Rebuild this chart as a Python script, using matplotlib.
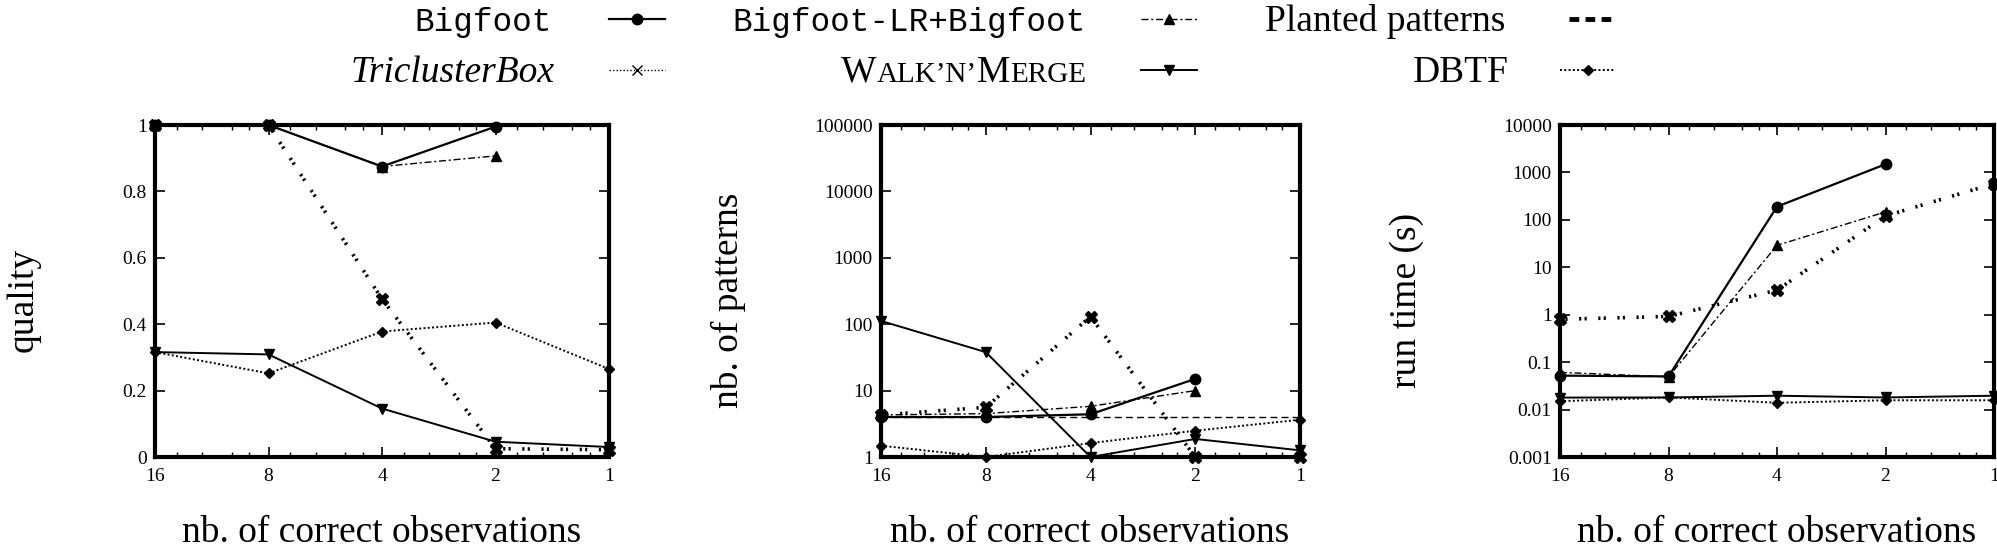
import numpy as np
import matplotlib
matplotlib.use("Agg")
from matplotlib import pyplot as plt, rcParams
from matplotlib.lines import Line2D
from matplotlib.ticker import LogLocator, NullLocator, NullFormatter

rcParams["font.family"] = "Liberation Serif"

nan = np.nan
obs = [16, 8, 4, 2, 1]

# quality
bigfoot_q = [1.0, 1.0, 0.875, 0.995, nan]
bflr_q = [1.0, 1.0, 0.875, 0.907, nan]
planted_q = [1.0, 1.0, 1.0, 1.0, 1.0]
tribox_q = [1.0, 1.0, 0.476, 0.025, 0.022]
wnm_q = [0.316, 0.309, 0.146, 0.046, 0.030]
dbtf_q = [0.316, 0.252, 0.378, 0.405, 0.265]

# nb. of patterns
bigfoot_p = [4.0, 4.0, 4.4, 15.0, nan]
bflr_p = [4.3, 4.5, 5.8, 10.0, nan]
planted_p = [4.0, 4.0, 4.0, 4.0, 4.0]
tribox_p = [4.3, 5.6, 130.0, 1.0, 1.0]
wnm_p = [112.0, 38.0, 1.0, 1.87, 1.26]
dbtf_p = [1.48, 1.0, 1.62, 2.49, 3.64]

# run time (s)
bigfoot_t = [0.052, 0.050, 190.0, 1490.0, nan]
bflr_t = [0.061, 0.049, 29.0, 147.0, nan]
tribox_t = [0.80, 0.92, 3.3, 121.0, 580.0]
wnm_t = [0.0179, 0.0180, 0.0196, 0.0180, 0.0196]
dbtf_t = [0.0150, 0.0180, 0.0139, 0.0157, 0.0157]

xticklabels = ["16", "8", "4", "2", "1"]
q_ticks = [0, 0.2, 0.4, 0.6, 0.8, 1]
q_labels = ["0", "0.2", "0.4", "0.6", "0.8", "1"]
p_ticks = [1, 10, 100, 1000, 10000, 100000]
p_labels = ["1", "10", "100", "1000", "10000", "100000"]
t_ticks = [0.001, 0.01, 0.1, 1, 10, 100, 1000, 10000]
t_labels = ["0.001", "0.01", "0.1", "1", "10", "100", "1000", "10000"]

styles = {
    "bigfoot": dict(ls="-", lw=1.6, marker="o", ms=7.5),
    "bflr": dict(ls=(0, (5, 2, 1.5, 2)), lw=1.0, marker="^", ms=6.5),
    "planted": dict(ls=(0, (5, 3)), lw=1.0),
    "tribox": dict(ls=(0, (0.6, 0.9, 0.6, 3.2)), lw=2.6, marker="X", ms=9,
                   dash_capstyle="butt"),
    "wnm": dict(ls="-", lw=1.4, marker="v", ms=6.5),
    "dbtf": dict(ls=(0, (1, 1.2)), lw=1.4, marker="D", ms=5),
}

W, H = 1997, 552
fig = plt.figure(figsize=(W / 100, H / 100), dpi=100)


def rect(x0, x1, top=125, bottom=457):
    return [x0 / W, 1 - bottom / H, (x1 - x0) / W, (bottom - top) / H]


ax1 = fig.add_axes(rect(155, 609))
ax2 = fig.add_axes(rect(881, 1300))
ax3 = fig.add_axes(rect(1560, 1994))

panels = [
    (ax1, dict(planted=planted_q, bigfoot=bigfoot_q, bflr=bflr_q,
               tribox=tribox_q, wnm=wnm_q, dbtf=dbtf_q)),
    (ax2, dict(planted=planted_p, bigfoot=bigfoot_p, bflr=bflr_p,
               tribox=tribox_p, wnm=wnm_p, dbtf=dbtf_p)),
    (ax3, dict(bigfoot=bigfoot_t, bflr=bflr_t,
               tribox=tribox_t, wnm=wnm_t, dbtf=dbtf_t)),
]

for ax, data in panels:
    for key, vals in data.items():
        ax.plot(obs, vals, color="k", clip_on=False, **styles[key])
    ax.set_xscale("log", base=2)
    ax.set_xlim(16, 1)
    ax.set_xticks(obs, xticklabels)
    ax.xaxis.set_minor_locator(
        LogLocator(base=2, subs=(1.125, 1.25, 1.5, 1.75))
    )
    ax.xaxis.set_minor_formatter(NullFormatter())
    for s in ax.spines.values():
        s.set_linewidth(3)
    ax.tick_params(which="both", direction="in", top=True, right=True,
                   labelsize=14)
    ax.tick_params(axis="x", which="both", pad=8)
    ax.tick_params(axis="y", which="both", pad=6)
    ax.tick_params(which="major", length=7, width=1.2)
    ax.tick_params(which="minor", length=3.5, width=1.0)

ax1.set_ylim(0, 1)
ax1.set_yticks(q_ticks, q_labels)
ax2.set_yscale("log")
ax2.set_ylim(1, 1e5)
ax2.set_yticks(p_ticks, p_labels)
ax3.set_yscale("log")
ax3.set_ylim(1e-3, 1e4)
ax3.set_yticks(t_ticks, t_labels)
for ax in (ax2, ax3):
    ax.yaxis.set_minor_locator(NullLocator())

# axis labels
for xc in (382, 1090, 1777):
    fig.text(xc / W, 1 - 542 / H, "nb. of correct observations",
             ha="center", va="baseline", size=27)
for xc, lab in ((23, "quality"), (728, "nb. of patterns"),
                (1407, "run time (s)")):
    fig.text(xc / W, 1 - 300 / H, lab, rotation=90,
             ha="center", va="center", size=27)

# legend drawn gnuplot style: right-aligned text then sample
renderer = fig.canvas.get_renderer()
rows = {1: (19, 31), 2: (70, 82)}  # (sample y, text baseline) in px
mono = dict(family="Liberation Mono", size=23.5)
serif = dict(family="Liberation Serif", size=27)
small = dict(family="Liberation Serif", size=21)


def sample(x0, x1, row, style):
    yc = 1 - rows[row][0] / H
    st = dict(style)
    mk = st.pop("marker", None)
    ms = st.pop("ms", 6)
    fig.add_artist(Line2D([x0 / W, x1 / W], [yc, yc], color="k",
                          transform=fig.transFigure, **st))
    if mk:
        fig.add_artist(Line2D([(x0 + x1) / 2 / W], [yc], color="k",
                              marker=mk, ms=ms, ls="none",
                              transform=fig.transFigure))


def label(xr, row, pieces):
    yb = 1 - rows[row][1] / H
    x = xr
    for txt, props in reversed(pieces):
        t = fig.text(x / W, yb, txt, ha="right", va="baseline", **props)
        x -= t.get_window_extent(renderer).width


label(552, 1, [("Bigfoot", mono)])
sample(609, 665, 1, styles["bigfoot"])
label(1086, 1, [("Bigfoot-LR+Bigfoot", mono)])
sample(1141, 1197, 1, styles["bflr"])
label(1505, 1, [("Planted patterns", serif)])
sample(1569, 1614, 1, dict(ls=(0, (2, 1.3)), lw=3.5))
label(555, 2, [("TriclusterBox", dict(serif, style="italic"))])
sample(609, 665, 2, dict(ls=(0, (1, 1.5)), lw=1.0, marker="x", ms=7))
label(1086, 2, [("W", serif), ("ALK\u2019N\u2019", small), ("M", serif),
                ("ERGE", small)])
sample(1141, 1197, 2, styles["wnm"])
label(1509, 2, [("DBTF", serif)])
sample(1560, 1615, 2, styles["dbtf"])

fig.savefig("out.png", dpi=100)
